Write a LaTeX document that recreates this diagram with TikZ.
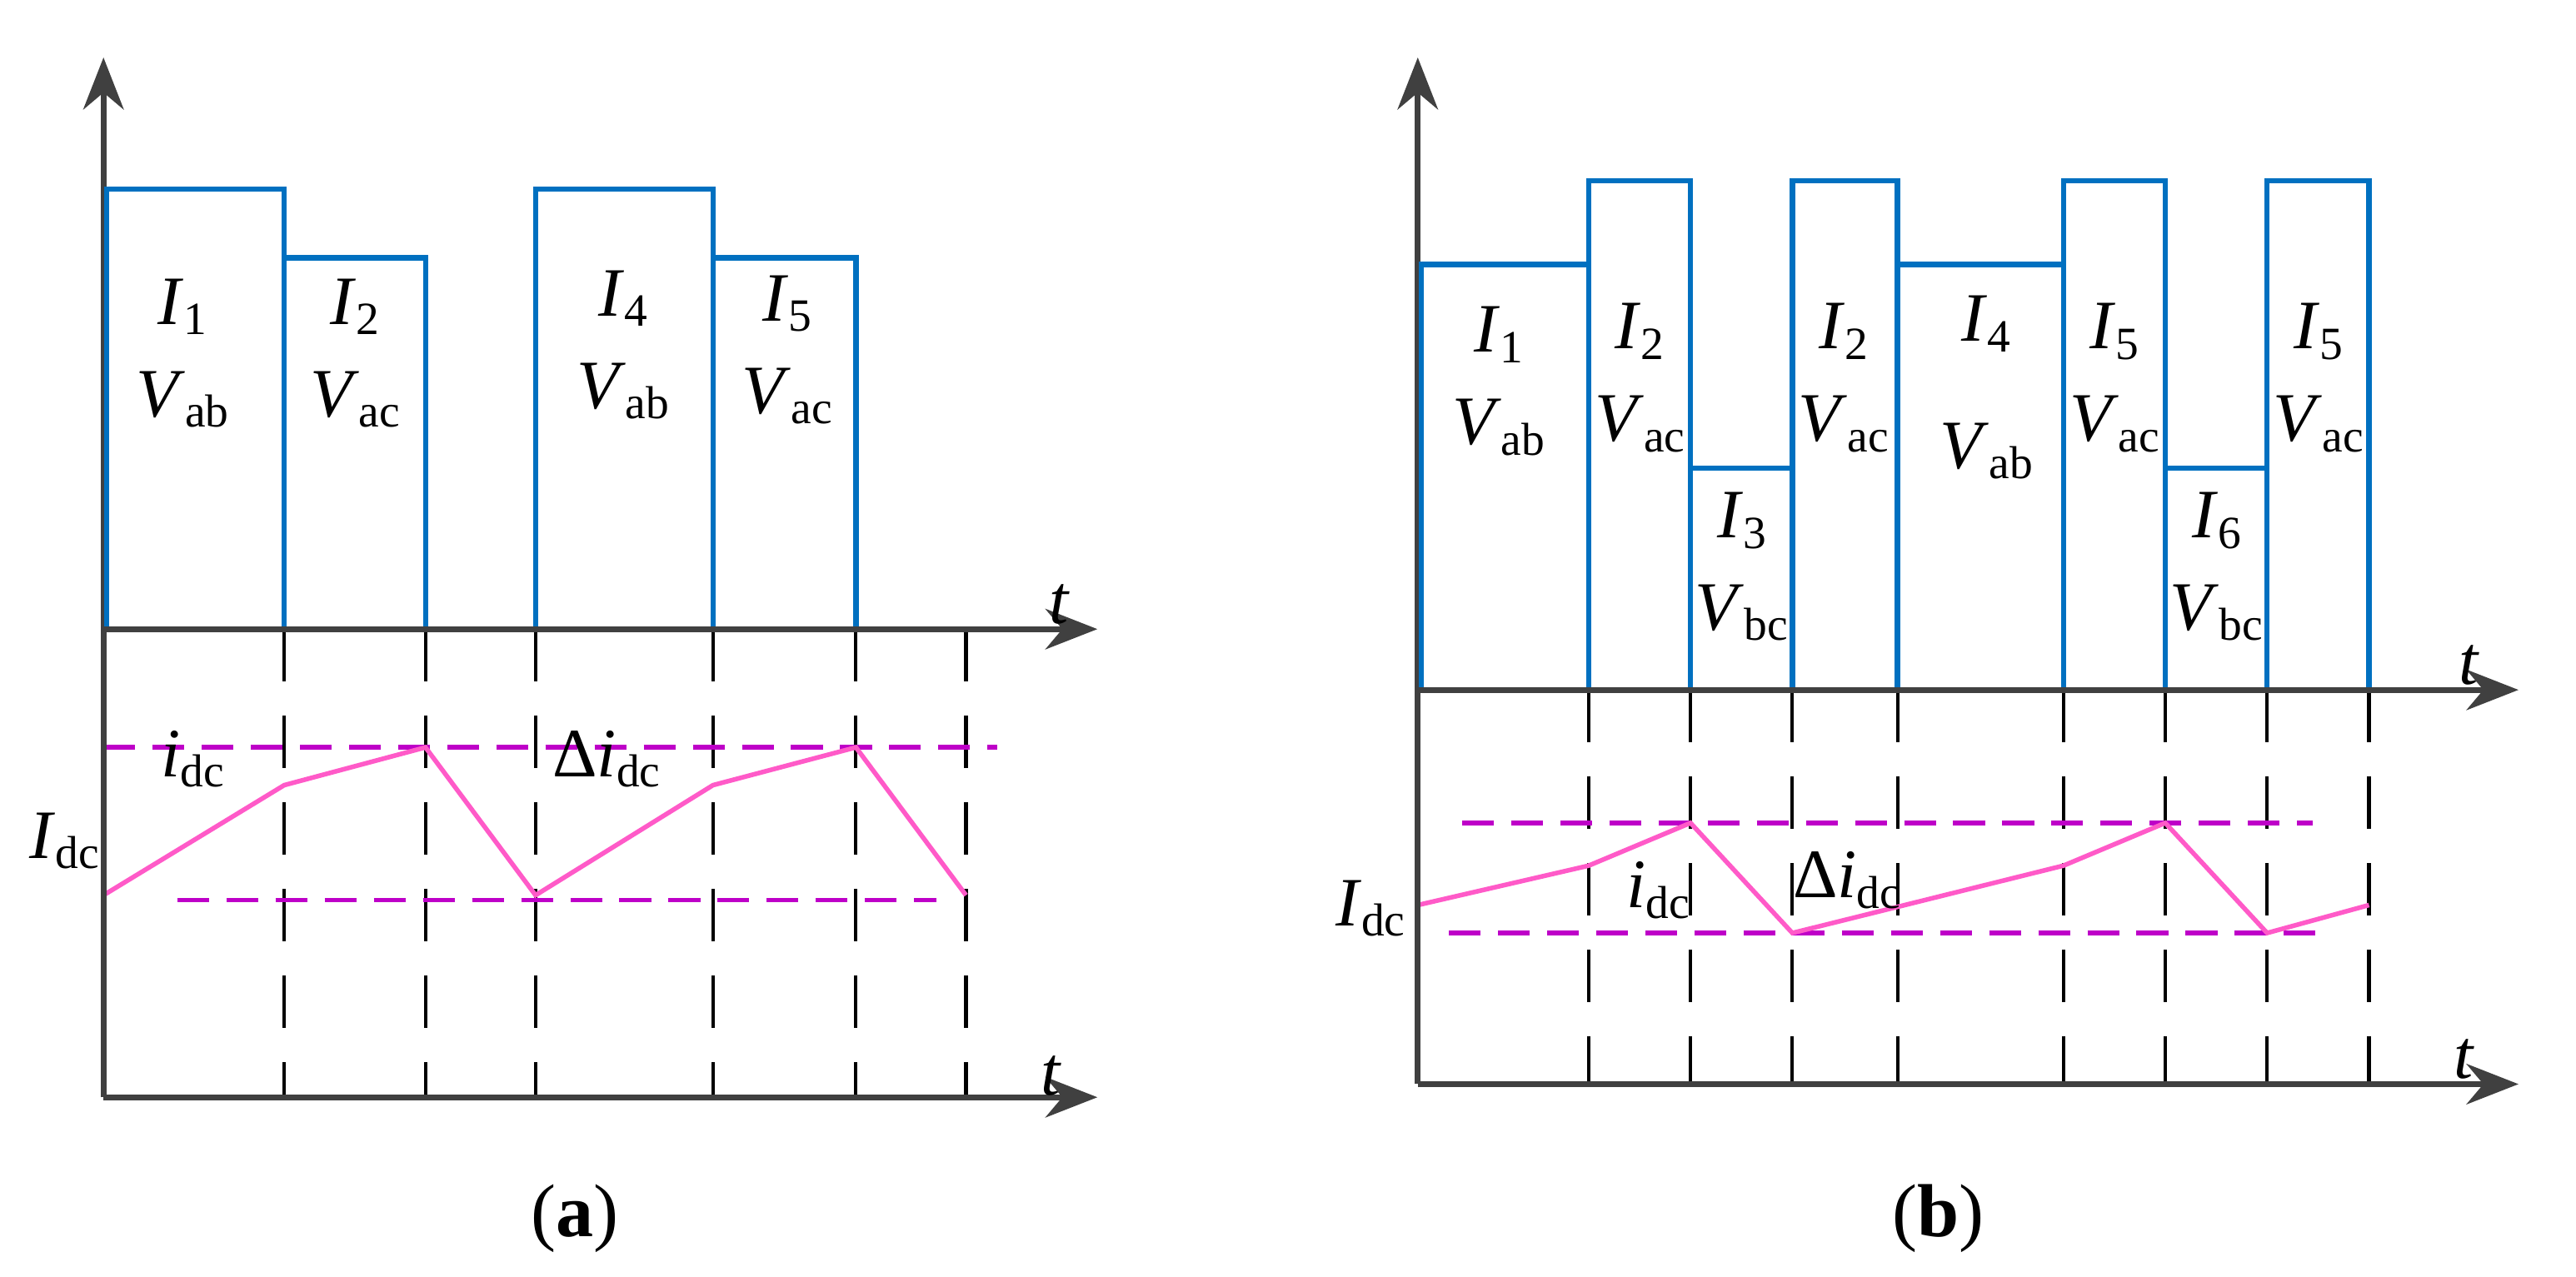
\documentclass[tikz,border=0pt]{standalone}
\usepackage{fontspec}
\setmainfont{Liberation Serif}
\usetikzlibrary{arrows.meta}
\definecolor{wblue}{RGB}{0,112,192}
\definecolor{dmag}{RGB}{190,0,200}
\definecolor{pk}{RGB}{255,90,200}
\definecolor{ax}{RGB}{64,64,64}
\newcommand{\vv}[2]{\textit{#1}\textsubscript{#2}}
\begin{document}
\begin{tikzpicture}[x=0.01cm,y=-0.01cm,
 axis/.style={ax,line width=1pt,-{Stealth[length=9pt,width=7pt]}},
 wave/.style={wblue,line width=0.9pt},
 vl/.style={black,line width=0.6pt,dash pattern=on 9pt off 6pt},
 md/.style={dmag,line width=0.8pt,dash pattern=on 5.5pt off 3pt},
 cur/.style={pk,line width=0.8pt},
 lab/.style={font=\fontsize{12}{16}\selectfont,align=center,inner sep=1pt},
 captxt/.style={font=\fontsize{13}{16}\selectfont}]
\useasboundingbox (0,0) rectangle (1568,777);
% ---------- panel (a)
\coordinate (ao) at (63,668);
\coordinate (ay) at (63,35);
\coordinate (at0) at (63,383);
\coordinate (at1) at (668,383);
\coordinate (ab1) at (668,668);
\foreach \x in {173,259,326,434,521,588} \draw[vl] (\x,383) -- (\x,668);
\draw[md] (63,455) -- (607,455);
\draw[md] (108,548) -- (570,548);
\draw[cur] (63,545) -- (173,478) -- (259,455) -- (326,545) -- (434,478) -- (521,455) -- (588,545);
\draw[axis] (ao) -- (ay);
\draw[axis] (ao) -- (ab1);
\draw[wave] (65,383) -- (65,115) -- (173,115) -- (173,157) -- (259,157) -- (259,383) -- (326,383) -- (326,115) -- (434,115) -- (434,157) -- (521,157) -- (521,383) -- (588,383);
\draw[wave] (173,157) -- (173,383) (434,157)--(434,383);
\draw[axis] (at0) -- (at1);
\node[lab] (a1) at (112,215) {\vv{I}{1}\\\vv{V}{ab}};
\node[lab] (a2) at (217,215) {\vv{I}{2}\\\vv{V}{ac}};
\node[lab] (a4) at (380,210) {\vv{I}{4}\\\vv{V}{ab}};
\node[lab] (a5) at (480,213) {\vv{I}{5}\\\vv{V}{ac}};
\node[lab] (aI) at (40,512) {\vv{I}{dc}};
\node[lab] (ai) at (118,462) {\vv{i}{dc}};
\node[lab] (ad) at (370,462) {Δ\vv{i}{dc}};
\node[lab] (at) at (645,368) {\textit{t}};
\node[lab] (abt) at (640,655) {\textit{t}};
\node[captxt] (acap) at (350,742) {(\textbf{a})};
% ---------- panel (b)
\coordinate (bo) at (863,660);
\coordinate (by) at (863,35);
\coordinate (bt0) at (863,420);
\coordinate (bt1) at (1533,420);
\coordinate (bb1) at (1533,660);
\foreach \x in {967,1029,1091,1155,1256,1318,1380,1442} \draw[vl] (\x,420) -- (\x,660);
\draw[md] (890,501) -- (1408,501);
\draw[md] (882,568) -- (1418,568);
\draw[cur] (863,551) -- (967,527) -- (1029,501) -- (1091,568) -- (1256,527) -- (1318,501) -- (1380,568) -- (1442,551);
\draw[axis] (bo) -- (by);
\draw[axis] (bo) -- (bb1);
\draw[wave] (865,420) -- (865,161) -- (967,161) -- (967,110) -- (1029,110) -- (1029,285) -- (1091,285) -- (1091,110) -- (1155,110) -- (1155,161) -- (1256,161) -- (1256,110) -- (1318,110) -- (1318,285) -- (1380,285) -- (1380,110) -- (1442,110) -- (1442,420);
\foreach \x in {967,1029,1091,1155,1256,1318,1380} \draw[wave] (\x,285) -- (\x,420);
\foreach \x in {967,1155,1256} \draw[wave] (\x,161) -- (\x,285);
\draw[axis] (bt0) -- (bt1);
\node[lab] (b1) at (913,232) {\vv{I}{1}\\\vv{V}{ab}};
\node[lab] (b2) at (999,230) {\vv{I}{2}\\\vv{V}{ac}};
\node[lab] (b3) at (1061,345) {\vv{I}{3}\\\vv{V}{bc}};
\node[lab] (b2b) at (1123,230) {\vv{I}{2}\\\vv{V}{ac}};
\node[lab] (b4) at (1210,236) {\vv{I}{4}\\[6pt]\vv{V}{ab}};
\node[lab] (b5) at (1288,230) {\vv{I}{5}\\\vv{V}{ac}};
\node[lab] (b6) at (1350,345) {\vv{I}{6}\\\vv{V}{bc}};
\node[lab] (b5b) at (1412,230) {\vv{I}{5}\\\vv{V}{ac}};
\node[lab] (bI) at (835,553) {\vv{I}{dc}};
\node[lab] (bi) at (1010,542) {\vv{i}{dc}};
\node[lab] (bd) at (1125,536) {Δ\vv{i}{dc}};
\node[lab] (bt) at (1503,405) {\textit{t}};
\node[lab] (bbt) at (1500,645) {\textit{t}};
\node[captxt] (bcap) at (1180,742) {(\textbf{b})};
\end{tikzpicture}
\end{document}
